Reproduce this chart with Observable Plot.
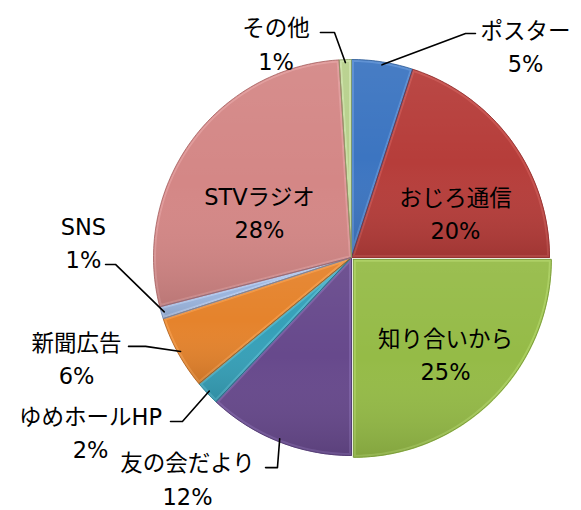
<!DOCTYPE html>
<html><head><meta charset="utf-8">
<script src="https://cdn.jsdelivr.net/npm/d3@7"></script>
<script src="https://cdn.jsdelivr.net/npm/@observablehq/plot@0.6"></script>
<style>body{margin:0;background:#fff}</style>
</head><body><div id="chart"></div>
<script>
// ---- data ----
const categories = ["ポスター","おじろ通信","知り合いから","友の会だより","ゆめホールHP","新聞広告","SNS","STVラジオ","その他"];
const values = [5, 20, 25, 12, 2, 6, 1, 28, 1];
const percentLabels = ["5%","20%","25%","12%","2%","6%","1%","28%","1%"];
const colors = ["#3c75c1","#b63d3a","#95bb47","#67498c","#36a0b8","#e5832c","#9bb5de","#d48786","#b7d08c"];
const highlights = ["#5a8fd4","#c95350","#acd060","#7e60a6","#52b6cd","#f39a48","#b6cbee","#e29e9d","#cde2a8"];
const outlines = ["#2c5a96","#8a2a28","#6f8f30","#4a3368","#27788b","#a95e1d","#7088b0","#a56060","#88a066"];

// ---- layout (pie units: radius = 1, y up) ----
const W = 581, H = 510, cx = 351, cy = 257, R = 198;
const explode = [0, 0, 0.013, 0, 0, 0, 0, 0, 0];
const labelX = [0.879, 0.525, 0.475, -0.828, -1.318, -1.389, -1.354, -0.465, -0.381];
const labelY = [1.073, 0.230, -0.482, -1.110, -0.874, -0.500, 0.083, 0.237, 1.086];
const hasLeader = [true, false, false, true, true, true, true, false, true];
const elbowX = [0.576, 0, 0, -0.374, -0.854, -1.040, -1.192, 0, -0.086];
const elbowY = [1.131, 0, 0, -1.061, -0.828, -0.449, -0.035, 0, 1.136];
const endX   = [0.626, 0, 0, -0.434, -0.914, -1.126, -1.242, 0, -0.157];

const arcs = d3.pie().sort(null).value(d => d)(values);
const slicePts = [];
arcs.forEach((a, i) => {
  const mid = (a.startAngle + a.endAngle) / 2;
  const ox = explode[i] * Math.sin(mid), oy = explode[i] * Math.cos(mid);
  const n = Math.max(2, Math.ceil((a.endAngle - a.startAngle) / (Math.PI / 180)));
  slicePts.push({k: i, x: ox, y: oy});
  for (let j = 0; j <= n; j++) {
    const t = a.startAngle + (a.endAngle - a.startAngle) * j / n;
    slicePts.push({k: i, x: ox + Math.sin(t), y: oy + Math.cos(t)});
  }
  slicePts.push({k: i, x: ox, y: oy});
});

const leaderPts = [];
arcs.forEach((a, i) => {
  if (!hasLeader[i]) return;
  const mid = (a.startAngle + a.endAngle) / 2;
  leaderPts.push({k: i, x: 0.985 * Math.sin(mid), y: 0.985 * Math.cos(mid)});
  leaderPts.push({k: i, x: elbowX[i], y: elbowY[i]});
  leaderPts.push({k: i, x: endX[i], y: elbowY[i]});
});

const labelData = categories.map((c, i) => ({name: c, pct: percentLabels[i], x: labelX[i], y: labelY[i]}));

const svg = Plot.plot({
  width: W, height: H,
  margin: 0,
  x: {domain: [-cx / R, (W - cx) / R], axis: null},
  y: {domain: [-(H - cy) / R, cy / R], axis: null},
  color: {type: "identity"},
  style: {background: "white", overflow: "visible"},
  marks: [
    Plot.line(slicePts, {x: "x", y: "y", z: "k", fill: d => colors[d.k], stroke: "none", curve: "linear"}),
    Plot.line(slicePts, {x: "x", y: "y", z: "k", fill: "none", stroke: d => highlights[d.k], strokeWidth: 5, strokeOpacity: 0.85, strokeLinejoin: "round"}),
    Plot.line(slicePts, {x: "x", y: "y", z: "k", fill: "url(#shade)", stroke: "none"}),
    Plot.line(slicePts, {x: "x", y: "y", z: "k", fill: "none", stroke: d => outlines[d.k], strokeWidth: 0.8, strokeLinejoin: "round"}),
    Plot.line(leaderPts, {x: "x", y: "y", z: "k", stroke: "black", strokeWidth: 1.6}),
    Plot.text(labelData, {x: "x", y: "y", text: d => d.name + "\n" + d.pct, lineHeight: 1.48,
      fontSize: 22.5, fontFamily: "'DejaVu Sans', 'Noto Sans CJK JP', sans-serif", fill: "black", textAnchor: "middle"})
  ]
});

// defs: shading gradient and per-slice clip paths for bevel highlight
const s = d3.select(svg);
const defs = s.insert("defs", ":first-child");
const g = defs.append("linearGradient").attr("id", "shade").attr("x1", 0).attr("y1", 0).attr("x2", 0).attr("y2", 1);
g.append("stop").attr("offset", 0).attr("stop-color", "white").attr("stop-opacity", 0.06);
g.append("stop").attr("offset", 0.5).attr("stop-color", "white").attr("stop-opacity", 0);
g.append("stop").attr("offset", 1).attr("stop-color", "black").attr("stop-opacity", 0.12);
const groups = svg.querySelectorAll('g[aria-label="line"]');
const fillPaths = groups[0].querySelectorAll("path");
const bevelPaths = groups[1].querySelectorAll("path");
fillPaths.forEach((p, i) => {
  const cp = defs.append("clipPath").attr("id", "clip" + i);
  cp.append("path").attr("d", p.getAttribute("d")).attr("transform", p.getAttribute("transform") || groups[0].getAttribute("transform"));
  if (bevelPaths[i]) bevelPaths[i].setAttribute("clip-path", "url(#clip" + i + ")");
});
document.getElementById("chart").appendChild(svg);
</script>
</body></html>
